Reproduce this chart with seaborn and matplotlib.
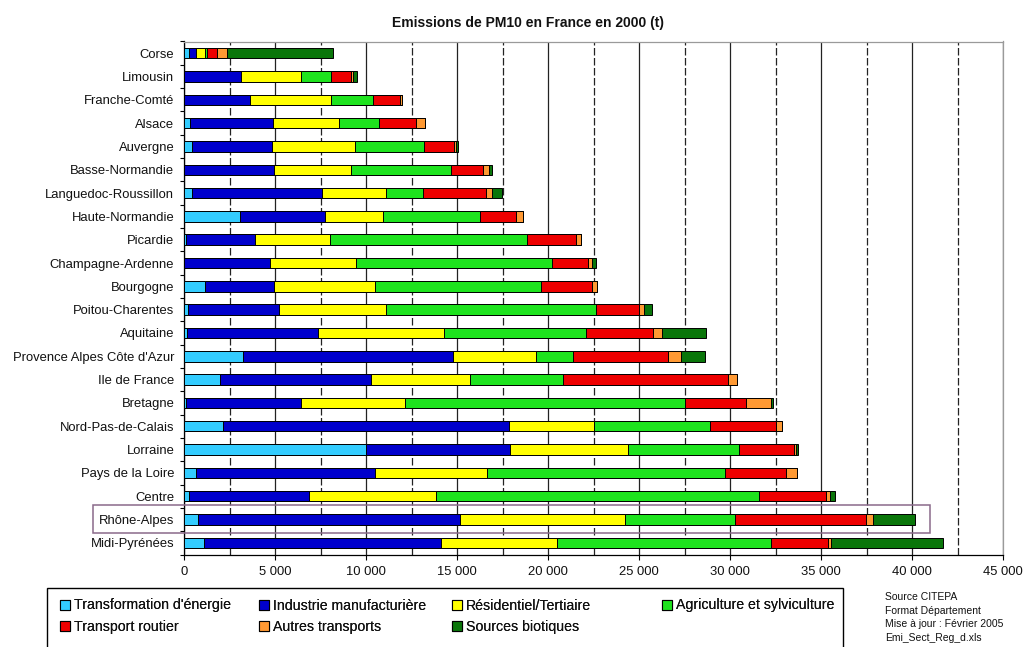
import numpy as np
import pandas as pd
import seaborn as sns
import matplotlib.pyplot as plt
from matplotlib.patches import Patch, Rectangle

# ---------------- data (t) ----------------
regions = ["Corse", "Limousin", "Franche-Comté", "Alsace", "Auvergne", "Basse-Normandie",
           "Languedoc-Roussillon", "Haute-Normandie", "Picardie", "Champagne-Ardenne",
           "Bourgogne", "Poitou-Charentes", "Aquitaine", "Provence Alpes Côte d'Azur",
           "Ile de France", "Bretagne", "Nord-Pas-de-Calais", "Lorraine", "Pays de la Loire",
           "Centre", "Rhône-Alpes", "Midi-Pyrénées"]

transformation_energie = [290, 0, 0, 330, 450, 0, 450, 3100, 90, 0, 1150, 240, 150, 3240,
                          2000, 90, 2150, 10000, 650, 290, 750, 1090]
industrie_manufacturiere = [345, 3140, 3630, 4570, 4390, 4955, 7130, 4630, 3830, 4745, 3820,
                            5000, 7220, 11540, 8290, 6360, 15690, 7910, 9850, 6580, 14400, 13050]
residentiel_tertiaire = [545, 3270, 4450, 3590, 4560, 4230, 3500, 3210, 4080, 4730, 5510,
                         5870, 6910, 4580, 5440, 5690, 4700, 6510, 6150, 6960, 9100, 6370]
agriculture_sylviculture = [90, 1670, 2320, 2250, 3780, 5480, 2030, 5300, 10840, 10740, 9150,
                            11550, 7810, 1990, 5080, 15360, 6350, 6080, 13090, 17780, 6010, 11730]
transport_routier = [545, 1090, 1470, 2030, 1630, 1760, 3490, 2000, 2700, 2000, 2770,
                     2330, 3670, 5270, 9080, 3380, 3620, 3000, 3360, 3670, 7210, 3160]
autres_transports = [545, 90, 130, 470, 120, 360, 330, 380, 250, 220, 300,
                     310, 510, 670, 470, 1360, 330, 110, 600, 220, 360, 150]
sources_biotiques = [5810, 230, 0, 0, 150, 145, 540, 0, 0, 200, 0,
                     400, 2400, 1360, 0, 140, 0, 130, 0, 270, 2330, 6140]

series_names = ["Transformation d'énergie", "Industrie manufacturière", "Résidentiel/Tertiaire",
                "Agriculture et sylviculture", "Transport routier", "Autres transports",
                "Sources biotiques"]
series_values = [transformation_energie, industrie_manufacturiere, residentiel_tertiaire,
                 agriculture_sylviculture, transport_routier, autres_transports, sources_biotiques]
colors = ["#33CCFF", "#0000CC", "#FFFF00", "#1EE31E", "#EE0000", "#FF9933", "#0A760A"]

x_ticks = list(range(0, 45001, 5000))
title = "Emissions de PM10 en France en 2000 (t)"
source_lines = ["Source CITEPA", "Format Département", "Mise à jour : Février 2005",
                "Emi_Sect_Reg_d.xls"]

# ---------------- style ----------------
sns.set_theme(style="white")
plt.rcParams["font.family"] = ["Liberation Sans", "DejaVu Sans"]
plt.rcParams["text.color"] = "#111111"

W, H = 1030, 647
fig = plt.figure(figsize=(W / 100, H / 100), dpi=100)
ax = fig.add_axes([184 / W, 1 - 554.5 / H, (1003 - 184) / W, (554.5 - 41.5) / H])

df = pd.DataFrame({"region": regions})
for name, vals in zip(series_names, series_values):
    df[name] = vals
cum = df[series_names].cumsum(axis=1)
cum["region"] = regions

# draw cumulative bars from the longest down so each segment shows
for name, color in reversed(list(zip(series_names, colors))):
    sns.barplot(data=cum, x=name, y="region", order=regions, orient="h",
                color=color, saturation=1, width=0.45, edgecolor="black",
                linewidth=0.7, errorbar=None, ax=ax, zorder=3)

ax.set_xlim(0, 45000)
ax.set_ylim(len(regions) - 0.5, -0.5)
ax.set_xlabel("")
ax.set_ylabel("")

ax.set_xticks(x_ticks)
ax.set_xticklabels([f"{v:,}".replace(",", " ") for v in x_ticks], fontsize=9.4)
ax.set_xticks(np.arange(2500, 45000, 5000), minor=True)
ax.set_yticks(np.arange(-0.5, len(regions), 1.0), minor=True)
ax.tick_params(axis="y", which="major", length=0, pad=7, labelsize=9.4, labelcolor="#111111")
ax.tick_params(axis="y", which="minor", length=3, width=0.8, color="black", direction="out", left=True)
ax.tick_params(axis="x", which="major", length=3.5, width=0.8, color="black", direction="out",
               bottom=True, pad=5, labelcolor="#111111")
ax.tick_params(axis="x", which="minor", length=0)

ax.set_axisbelow(True)
ax.grid(axis="x", which="major", color="#222222", linewidth=0.9, linestyle="-")
ax.grid(axis="x", which="minor", color="#222222", linewidth=0.9, linestyle=(0, (6, 2)))
ax.grid(axis="y", which="both", visible=False)

for s in ["left", "bottom"]:
    ax.spines[s].set_color("black")
    ax.spines[s].set_linewidth(0.9)
for s in ["top", "right"]:
    ax.spines[s].set_color("#9A9A9A")
    ax.spines[s].set_linewidth(0.9)

# title
fig.text(528 / W, 1 - 22.7 / H, title, ha="center", va="center", fontsize=10,
         fontweight="bold", color="#111111")

# highlight box around Rhône-Alpes
fig.patches.append(Rectangle((93 / W, 1 - 533 / H), (930 - 93) / W, (533 - 505) / H,
                             transform=fig.transFigure, fill=False, edgecolor="#8A6A8A",
                             linewidth=1.1, zorder=10))

# legend frame
fig.patches.append(Rectangle((46.5 / W, 1 - 660 / H), (843 - 46.5) / W, (660 - 588) / H,
                             transform=fig.transFigure, fill=False, edgecolor="black",
                             linewidth=1.0, zorder=5))

handles = [Patch(facecolor=c, edgecolor="black", linewidth=0.8) for c in colors]
columns = [([0, 4], 60), ([1, 5], 259), ([2, 6], 452), ([3], 662)]
for idx, xpos in columns:
    leg = fig.legend([handles[i] for i in idx], [series_names[i] for i in idx],
                     loc="upper left", bbox_to_anchor=(xpos / W, 1 - 598.5 / H),
                     bbox_transform=fig.transFigure, frameon=False, fontsize=10.2,
                     handlelength=0.7, handleheight=0.7, handletextpad=0.3,
                     borderpad=0, borderaxespad=0, labelspacing=0.5)
    fig.add_artist(leg)

# source text
for i, line in enumerate(source_lines):
    fig.text(885 / W, 1 - (597 + 13.7 * i) / H, line, ha="left", va="center",
             fontsize=7.5, color="#111111")

fig.savefig("out.png", dpi=100)
